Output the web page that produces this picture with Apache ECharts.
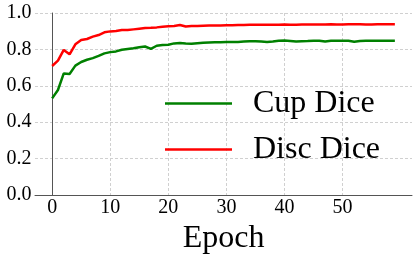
<!DOCTYPE html>
<html>
<head>
<meta charset="utf-8">
<script src="https://cdn.jsdelivr.net/npm/echarts@6/dist/echarts.min.js"></script>
<style>html,body{margin:0;padding:0;background:#fff}#c{width:415px;height:256px}</style>
</head>
<body>
<div id="c"></div>
<script>
var cupDice = [0.531,0.577,0.668,0.665,0.711,0.731,0.743,0.752,0.764,0.778,
  0.785,0.789,0.798,0.802,0.806,0.812,0.816,0.803,0.820,0.824,
  0.826,0.833,0.835,0.832,0.831,0.834,0.837,0.838,0.839,0.839,
  0.840,0.840,0.841,0.843,0.845,0.845,0.843,0.841,0.844,0.848,
  0.849,0.846,0.843,0.845,0.846,0.848,0.848,0.843,0.847,0.848,
  0.848,0.847,0.842,0.846,0.847,0.848,0.848,0.847,0.848,0.848];
var discDice = [0.709,0.738,0.797,0.773,0.828,0.852,0.857,0.870,0.879,0.894,
  0.899,0.901,0.906,0.906,0.910,0.914,0.918,0.919,0.921,0.925,
  0.927,0.929,0.934,0.926,0.928,0.929,0.930,0.931,0.932,0.932,
  0.933,0.933,0.934,0.934,0.935,0.935,0.935,0.936,0.936,0.936,
  0.937,0.936,0.936,0.937,0.937,0.937,0.937,0.937,0.938,0.937,
  0.937,0.938,0.938,0.938,0.937,0.937,0.938,0.938,0.938,0.938];
var epochs = cupDice.map(function(_, i){ return i; });
var xTicks = [0,10,20,30,40,50];
var yTicks = [0,0.2,0.4,0.6,0.8,1.0];

var font = 'Liberation Serif';
var chart = echarts.init(document.getElementById('c'), null, {renderer:'canvas'});
chart.setOption({
  animation:false,
  textStyle:{fontFamily:font},
  grid:{left:35, right:3, top:13, bottom:61, containLabel:false, outerBoundsMode:'none'},
  xAxis:{
    type:'value', min:-2.95, max:61.95,
    name:'Epoch', nameLocation:'middle', nameGap:23,
    nameTextStyle:{fontFamily:font, fontSize:32, color:'#000'},
    axisLine:{lineStyle:{color:'#555', width:1}},
    axisTick:{show:false, customValues:xTicks},
    axisLabel:{customValues:xTicks, fontFamily:font, fontSize:20, color:'#000', margin:3},
    splitLine:{show:true, lineStyle:{color:'#d0d0d0', type:[3,2], width:1}}
  },
  yAxis:{
    type:'value', min:0, max:1, interval:0.2,
    axisLine:{show:true, lineStyle:{color:'#555', width:1}},
    axisTick:{show:false, customValues:yTicks},
    axisLabel:{customValues:yTicks, fontFamily:font, fontSize:20, color:'#000', margin:3.5,
      formatter:function(v){return v.toFixed(1);}},
    splitLine:{show:true, lineStyle:{color:'#d0d0d0', type:[3,2], width:1}}
  },
  legend:{
    orient:'vertical', left:160, top:82.5, itemGap:14,
    itemWidth:67, itemHeight:2.5, icon:'rect',
    textStyle:{fontFamily:font, fontSize:32, lineHeight:32, color:'#000', padding:[0,0,0,16]},
    data:['Cup Dice','Disc Dice']
  },
  series:[
    {name:'Cup Dice', type:'line', showSymbol:false, color:'#008000',
      lineStyle:{width:2.5, color:'#008000'},
      data:epochs.map(function(e,i){return [e,cupDice[i]];})},
    {name:'Disc Dice', type:'line', showSymbol:false, color:'#ff0000',
      lineStyle:{width:2.5, color:'#ff0000'},
      data:epochs.map(function(e,i){return [e,discDice[i]];})}
  ]
});
</script>
</body>
</html>
